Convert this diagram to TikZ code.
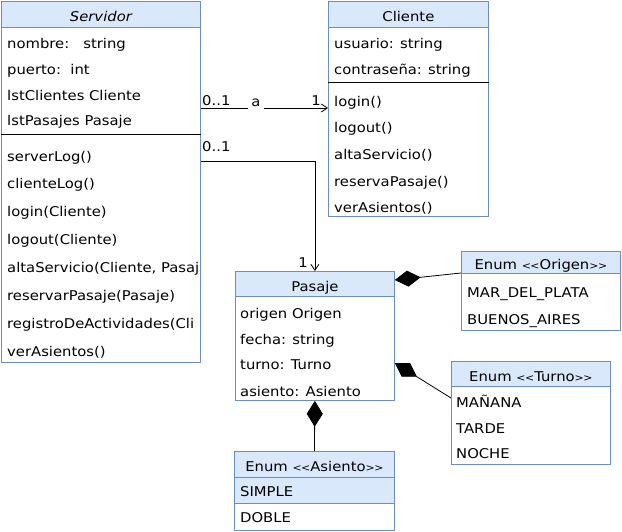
\documentclass[tikz,border=0pt]{standalone}
\usepackage{fontspec}
\setmainfont[FakeStretch=1.1]{DejaVu Sans}
\usetikzlibrary{arrows.meta}
\definecolor{hdrblue}{HTML}{DAE8FC}
\definecolor{bordblue}{HTML}{6C8EBF}
\newcommand{\ltlt}{{\fontsize{10}{12}\selectfont<\kern-0.5pt<}}
\newcommand{\gtgt}{{\fontsize{10}{12}\selectfont>\kern-0.5pt>}}
\begin{document}
\begin{tikzpicture}[x=1bp,y=-1bp,
  every node/.style={font=\fontsize{13.5}{16}\selectfont, text=black},
  body/.style={draw=bordblue, fill=white, line width=0.8bp, anchor=north west, inner sep=0pt},
  hdr/.style={draw=bordblue, fill=hdrblue, line width=0.8bp, anchor=north west, inner sep=0pt, text height=15bp, text depth=0bp},
  txt/.style={anchor=west, inner sep=0pt, text height=14bp, text depth=3bp},
  lbl/.style={inner sep=0pt, text height=14bp, text depth=3bp},
  sepline/.style={draw=black, line width=0.8bp},
  assoc/.style={draw=black, line width=0.8bp, -{Straight Barb[length=6bp,width=8bp]}},
  comp/.style={draw=black, line width=0.8bp, {Diamond[length=26bp,width=16bp,fill=black]}-},
]
\useasboundingbox (0,0) rectangle (622,532);

% ---------- Servidor ----------
\node[body, minimum width=199bp, minimum height=361bp] (srv) at (1,1) {};
\node[hdr, minimum width=199bp, minimum height=26bp] (srvh) at (1,1) {\itshape Servidor};
\draw[sepline] (srv.west |- 0,134) -- (srv.east |- 0,134);
\node[txt] (s1) at (7,43) {nombre:\ \ \ string};
\node[txt] (s2) at (7,69) {puerto:\ \ int};
\node[txt] (s3) at (7,95) {lstClientes Cliente};
\node[txt] (s4) at (7,120) {lstPasajes Pasaje};
\begin{scope}
\clip (1,134) rectangle (199.6,362);
\node[txt] (m1) at (7,156) {serverLog()};
\node[txt] (m2) at (7,183) {clienteLog()};
\node[txt] (m3) at (7,211) {login(Cliente)};
\node[txt] (m4) at (7,239) {logout(Cliente)};
\node[txt] (m5) at (7,267) {altaServicio(Cliente, Pasaj};
\node[txt] (m6) at (7,295) {reservarPasaje(Pasaje)};
\node[txt] (m7) at (7,323) {registroDeActividades(Cli};
\node[txt] (m8) at (7,351) {verAsientos()};
\end{scope}

% ---------- Cliente ----------
\node[body, minimum width=160bp, minimum height=215bp] (cli) at (328,1) {};
\node[hdr, minimum width=160bp, minimum height=26bp] (clih) at (328,1) {Cliente};
\draw[sepline] (cli.west |- 0,82) -- (cli.east |- 0,82);
\node[txt] (c1) at (334,43) {usuario: string};
\node[txt] (c2) at (334,69) {contraseña: string};
\node[txt] (c3) at (334,101) {login()};
\node[txt] (c4) at (334,127) {logout()};
\node[txt] (c5) at (334,154) {altaServicio()};
\node[txt] (c6) at (334,181) {reservaPasaje()};
\node[txt] (c7) at (334,207) {verAsientos()};

% ---------- Pasaje ----------
\node[body, minimum width=159bp, minimum height=129bp] (pas) at (235,271) {};
\node[hdr, minimum width=159bp, minimum height=25bp] (pash) at (235,271) {Pasaje};
\node[txt] (p1) at (240,313) {origen Origen};
\node[txt] (p2) at (240,339) {fecha: string};
\node[txt] (p3) at (240,364) {turno: Turno};
\node[txt] (p4) at (240,391) {asiento: Asiento};

% ---------- Enum Origen ----------
\node[body, minimum width=159bp, minimum height=79bp] (ori) at (461,251) {};
\node[hdr, minimum width=159bp, minimum height=22bp] (orih) at (461,251) {Enum \ltlt Origen\gtgt};
\node[txt] (o1) at (467,292) {MAR\_DEL\_PLATA};
\node[txt] (o2) at (467,319) {BUENOS\_AIRES};

% ---------- Enum Turno ----------
\node[body, minimum width=159bp, minimum height=103bp] (tur) at (451,361) {};
\node[hdr, minimum width=159bp, minimum height=25bp] (turh) at (451,361) {Enum \ltlt Turno\gtgt};
\node[txt] (t1) at (456,402) {MAÑANA};
\node[txt] (t2) at (456,428) {TARDE};
\node[txt] (t3) at (456,453) {NOCHE};

% ---------- Enum Asiento ----------
\node[body, minimum width=160bp, minimum height=79bp] (asi) at (234,451) {};
\node[hdr, minimum width=160bp, minimum height=26bp] (asih) at (234,451) {Enum \ltlt Asiento\gtgt};
\node[hdr, minimum width=160bp, minimum height=26bp] (asir) at (234,477) {};
\node[txt] (a1) at (240,491) {SIMPLE};
\node[txt] (a2) at (240,517) {DOBLE};

% ---------- connectors ----------
\draw[assoc] (srv.east |- 0,108) -- (cli.west |- 0,108);
\node[lbl, anchor=west] (l1) at (202,100) {0..1};
\node[lbl, fill=white, inner xsep=3bp, inner ysep=1bp, text height=8bp, text depth=2bp] (l2) at (256,104) {a};
\node[lbl, anchor=east] (l3) at (321,100) {1};

\draw[assoc] (srv.east |- 0,161) -| (pas.north);
\node[lbl, anchor=west] (l4) at (202,146) {0..1};
\node[lbl] (l5) at (303,262) {1};

\draw[comp] (pas.east |- 0,280) -- (ori.west |- 0,273);
\draw[comp] (pas.east |- 0,363) -- (tur.west |- 0,398);
\draw[comp] (pas.south) -- (asi.north);
\end{tikzpicture}
\end{document}
